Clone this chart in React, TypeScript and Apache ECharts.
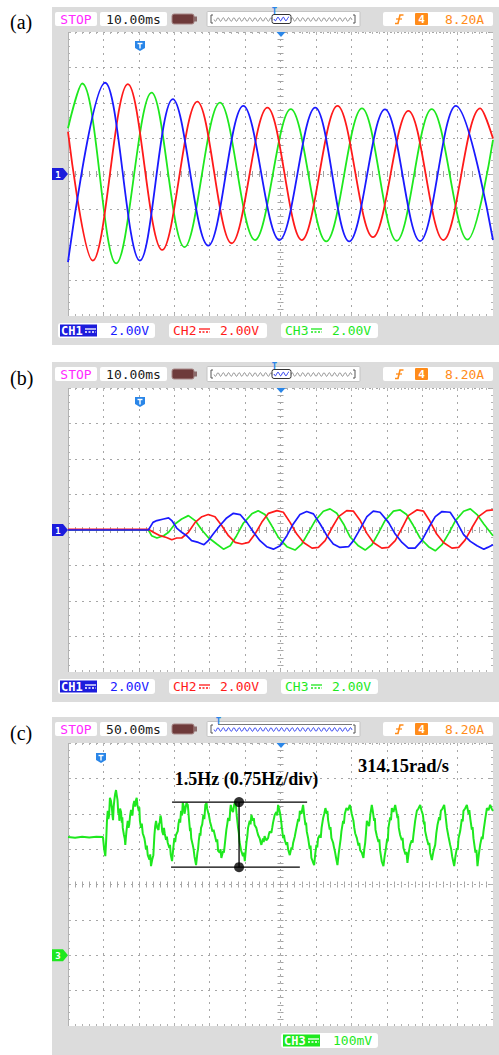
import React, { useEffect, useRef } from "react";
import * as echarts from "echarts";

type P = [number, number];

// ---------- (a) time [ms], voltage [V]  (2 V/div, 10 ms/div) ----------
const aGreen: P[] = [[0, 2.58], [4, 5.1], [13.6, -5.04], [23.6, 4.58], [32.9, -4.12], [42.9, 4.02], [52.8, -3.72], [62.9, 3.66], [72.9, -3.8], [83, 3.7], [92.8, -3.76], [102.7, 3.66], [112.8, -3.7], [120, 1.92]];
const aRed: P[] = [[0, 2.38], [7, -4.88], [16.9, 5.06], [26.6, -4.28], [36.5, 4.08], [46.2, -3.9], [56.3, 3.74], [66, -3.72], [76.1, 3.84], [86.1, -3.56], [96.1, 3.56], [106, -3.72], [116.4, 3.7], [120, 2.0]];
const aBlue: P[] = [[0, -4.96], [10.5, 5.14], [20.3, -4.88], [29.6, 4.22], [39.6, -4.04], [49.5, 3.84], [59.7, -3.72], [69.8, 3.74], [79.4, -3.8], [89.5, 3.64], [99.4, -3.78], [109.5, 3.84], [120, -3.72]];

// ---------- (b) time [ms], voltage [V] ----------
const bBlue: P[] = [[0, 0], [22.7, 0], [24.0, 0.43], [25.1, 0.53], [27.0, 0.62], [28.4, 0.68], [29.3, 0.53], [30.7, 0.11], [32.1, -0.13], [33.5, -0.32], [34.9, -0.6], [36.8, -0.7], [38.4, -0.83], [39.6, -0.6], [41.0, -0.23], [42.9, 0.25], [44.8, 0.68], [46.7, 0.94], [48.6, 0.87], [50.5, 0.43], [52.4, -0.13], [54.2, -0.6], [56.1, -0.94], [58.0, -1.08], [59.9, -0.89], [61.8, -0.32], [63.6, 0.34], [65.5, 0.87], [67.4, 1.04], [69.3, 0.91], [71.2, 0.34], [73.1, -0.32], [74.9, -0.79], [76.8, -0.98], [79.2, -0.94], [80.6, -0.6], [82.5, 0.06], [84.4, 0.75], [86.2, 1.06], [88.1, 1.0], [90.5, 0.43], [92.4, -0.23], [94.3, -0.7], [96.1, -1.02], [98.0, -1.02], [99.9, -0.6], [101.8, 0.11], [103.7, 0.75], [105.6, 1.04], [107.9, 1.0], [109.8, 0.43], [111.7, -0.26], [113.6, -0.64], [115.5, -0.89], [117.4, -1.08], [118.5, -0.98], [120, -0.83]];
const bRed: P[] = [[0, 0.04], [22.7, 0.04], [24.1, -0.13], [26.0, -0.32], [27.8, -0.42], [29.3, -0.55], [30.7, -0.45], [32.1, -0.45], [34.0, -0.13], [35.9, 0.43], [37.8, 0.75], [39.6, 0.87], [41.5, 0.75], [43.4, 0.25], [45.3, -0.32], [47.2, -0.7], [49.1, -0.79], [51.0, -0.7], [52.8, -0.23], [54.7, 0.43], [56.6, 0.94], [59.0, 1.09], [60.8, 1.0], [62.7, 0.43], [64.6, -0.23], [66.5, -0.7], [68.9, -1.02], [70.7, -0.98], [72.6, -0.6], [74.5, 0.11], [76.4, 0.75], [78.7, 1.09], [80.6, 1.06], [82.5, 0.53], [84.4, -0.19], [86.2, -0.7], [88.6, -1.02], [90.5, -0.98], [92.4, -0.6], [94.3, 0.11], [96.1, 0.81], [98.5, 1.13], [100.4, 1.06], [102.2, 0.49], [104.1, -0.23], [106.0, -0.7], [108.4, -1.02], [110.3, -0.98], [112.1, -0.57], [114.0, 0.11], [115.9, 0.75], [118.2, 1.09], [120, 1.13]];
const bGreen: P[] = [[0, 0], [22.7, 0], [23.6, -0.32], [25.1, -0.45], [27.0, -0.32], [28.4, -0.13], [30.2, 0.34], [32.1, 0.62], [34.0, 0.81], [35.9, 0.53], [37.8, 0], [39.6, -0.42], [42.0, -0.79], [43.9, -1.08], [45.8, -0.89], [47.6, -0.32], [49.5, 0.38], [51.9, 0.91], [53.7, 1.09], [55.6, 0.87], [57.5, 0.25], [59.4, -0.42], [61.8, -0.94], [64.1, -1.13], [66.0, -0.79], [67.9, -0.13], [69.8, 0.53], [72.1, 1.06], [74.0, 1.19], [75.9, 0.94], [77.8, 0.34], [79.6, -0.38], [82.0, -0.89], [83.9, -1.13], [85.8, -0.83], [87.6, -0.19], [89.5, 0.53], [91.9, 1.06], [93.8, 1.13], [95.6, 0.87], [97.5, 0.25], [99.4, -0.45], [101.8, -0.94], [103.7, -1.17], [105.6, -0.83], [107.5, -0.19], [109.4, 0.53], [111.7, 1.06], [113.6, 1.19], [115.5, 0.87], [117.4, 0.34], [120, -0.32]];

// ---------- (c) time [ms], CH3 [mV] (100 mV/div, 50 ms/div) ----------
const cSpeed: P[] = [[0, 334], [10, 332], [20, 335], [30, 333], [40, 335], [49.4, 334], [51, 300], [52.7, 280], [53.5, 310], [54, 330], [55, 380], [56.1, 408], [57, 385], [58, 395], [59.2, 445], [60.7, 436], [62, 415], [62.8, 395], [63.6, 382], [64.5, 420], [65.5, 440], [66.5, 455], [67.8, 467], [69, 450], [69.9, 439], [71, 400], [71.8, 410], [72.5, 380], [73.5, 415], [74.9, 405], [76, 375], [76.7, 390], [77.3, 360], [79, 340], [80.1, 330], [80.9, 312], [81.6, 330], [82.5, 350], [84.3, 380], [85.4, 360], [86.5, 370], [87.7, 395], [89, 411], [90, 400], [91, 395], [92.2, 425], [93.6, 436], [94.8, 420], [96, 439], [97, 445], [98, 425], [99.9, 408], [100.7, 418], [101.5, 380], [103.1, 360], [104.2, 372], [105.5, 345], [107.8, 331], [108.9, 318], [110, 300], [111.3, 310], [112.6, 283], [115, 270], [116.1, 285], [117.2, 252], [118.8, 270], [120.5, 283], [121.2, 310], [122, 340], [123.1, 365], [124.3, 380], [126, 360], [127.8, 354], [128.6, 372], [129.5, 375], [130.5, 395], [131.4, 388], [133, 350], [134.6, 340], [135.5, 360], [136.5, 345], [138.4, 326], [139.6, 335], [140.8, 318], [143.1, 303], [144, 312], [145, 285], [146.9, 266], [148.5, 300], [150.1, 331], [151.3, 320], [152.5, 340], [155, 351], [156, 372], [157.3, 385], [158.4, 375], [159.6, 408], [161, 395], [162, 431], [163.6, 420], [164.5, 400], [165.3, 408], [167.2, 430], [169.1, 425], [170, 405], [170.8, 385], [172.3, 351], [173.1, 360], [174, 330], [176.1, 312], [177.3, 300], [178.5, 280], [180.8, 255], [182.7, 290], [183.6, 300], [184.6, 323], [186, 345], [187, 338], [187.8, 360], [189.5, 370], [191.1, 397], [192.5, 385], [193.9, 425], [195.6, 430], [196.4, 415], [197.3, 408], [199, 395], [200.6, 377], [202.2, 365], [203.9, 350], [205.5, 355], [207.2, 340], [209.5, 320], [210.7, 328], [211.9, 295], [214.2, 290], [215.3, 300], [216.5, 275], [219, 295], [220.1, 290], [221.3, 312], [223.6, 355], [224.8, 370], [226, 388], [228, 380], [229, 410], [229.8, 425], [231.4, 410], [233, 405], [234.6, 425], [236.3, 436], [237.2, 420], [238.2, 395], [240.1, 360], [241.2, 345], [242.2, 320], [244.3, 297], [247, 280], [248.3, 290], [249.6, 266], [252, 320], [253.1, 335], [254.2, 360], [256.5, 380], [257.7, 370], [258.9, 397], [261.2, 380], [262.3, 388], [263.4, 368], [265.9, 360], [267.1, 350], [268.4, 340], [270.7, 330], [271.8, 320], [273, 312], [275.2, 330], [276.3, 320], [277.5, 337], [280, 325], [282.5, 331], [283.6, 342], [284.8, 350], [287.1, 346], [288.3, 360], [289.5, 375], [291.9, 397], [294.2, 405], [295.4, 395], [296.6, 425], [298.5, 410], [299.5, 400], [300.4, 388], [302, 360], [303.7, 331], [304.9, 340], [306, 325], [308.3, 312], [309.5, 320], [310.7, 300], [313.1, 283], [315.5, 305], [316.6, 300], [317.8, 317], [320.1, 335], [321.3, 348], [322.5, 360], [325, 385], [326.1, 378], [327.3, 408], [329.6, 400], [331.9, 425], [333.5, 395], [335.2, 368], [336.1, 375], [337.1, 350], [339, 331], [341.3, 300], [342.4, 310], [343.6, 275], [345.5, 265], [347.5, 255], [349, 285], [350.7, 312], [351.9, 305], [353, 330], [355.5, 340], [356.8, 332], [358, 360], [360.2, 388], [361.8, 400], [363.4, 416], [365.3, 400], [366.2, 408], [367.2, 382], [369.5, 355], [370.6, 362], [371.9, 331], [374.3, 318], [375.5, 305], [376.7, 295], [378.5, 275], [380.4, 255], [382, 285], [383.8, 312], [385, 330], [386, 350], [388.4, 380], [389.5, 372], [390.8, 400], [393.1, 416], [395.5, 410], [397.9, 425], [399.2, 415], [400.5, 400], [403, 380], [404.2, 360], [405.4, 345], [407.8, 331], [410, 310], [411.2, 318], [412.4, 297], [414.8, 290], [416, 282], [417.1, 275], [418.3, 300], [419.5, 317], [420.7, 345], [421.9, 380], [423.5, 372], [425.1, 365], [427, 400], [428.9, 425], [430.5, 405], [432.2, 380], [433.2, 388], [434.1, 355], [436, 337], [438.3, 320], [439.5, 328], [440.7, 295], [443, 265], [445.3, 252], [447, 280], [448.9, 303], [450.6, 330], [451.5, 322], [452.4, 360], [454.8, 390], [456, 382], [457.2, 416], [459.5, 405], [461.9, 425], [463.5, 408], [465.1, 388], [466, 395], [467, 360], [468.9, 340], [471.2, 325], [472.4, 332], [473.6, 303], [476.4, 285], [477.8, 292], [479.2, 261], [481, 290], [483, 312], [485.3, 325], [486.5, 318], [487.7, 340], [490.1, 380], [492.5, 408], [494.8, 415], [497.2, 425], [499, 410], [501, 397], [502.6, 370], [503.4, 378], [504.2, 351], [506.5, 330], [508.9, 312], [510.1, 318], [511.3, 290], [513.7, 269], [516, 295], [518.4, 312], [520, 345], [521.6, 368], [524, 390], [525.2, 382], [526.4, 408], [528.8, 415], [531.1, 425], [533, 395], [534.9, 360], [536, 348], [537.2, 335], [539.5, 312], [540.9, 300], [542.3, 280], [545.2, 252], [547, 280], [549, 303], [550.2, 298], [551.3, 330], [553.7, 351], [556, 385], [557.2, 378], [558.3, 408], [560.7, 415], [563.1, 425], [565.5, 400], [566.6, 410], [567.8, 388], [570.1, 355], [571.2, 362], [572.4, 331], [575.2, 290], [576.6, 298], [578.1, 252], [580, 285], [581.9, 312], [584.2, 335], [585.4, 328], [586.6, 351], [589, 385], [591.4, 416], [593.7, 410], [596, 425], [598, 415], [600, 408]];

// annotation in (c): band of the speed ripple
const cBandTop: P[] = [[146.9, 433], [337.6, 433]];
const cBandBottom: P[] = [[145.5, 249], [327.3, 249]];
const cBandSpan: P[] = [[241.5, 249], [241.5, 433]];
const cAnnoText = "1.5Hz (0.75Hz/div)";
const cSpeedText = "314.15rad/s";

// header / footer texts
const timeBase = ["10.00ms", "10.00ms", "50.00ms"];
const chScaleAB = ["2.00V", "2.00V", "2.00V"];
const chScaleC = "100mV";
const triggerText = "8.20A";
const panelLabels = ["(a)", "(b)", "(c)"];

// axis ranges per panel: [xMax, xInterval, yMin, yMax, yInterval]
const ranges = [
  [120, 10, -8, 8, 2],
  [120, 10, -8, 8, 2],
  [600, 50, -200, 600, 100],
];

// ---------- styling / layout ----------
const BLUE = "#1a1aff";
const RED = "#ff1a1a";
const GREEN = "#1ee81e";
const ORANGE = "#ff8c1a";
const MAGENTA = "#ff2bff";
const TBLUE = "#2a86e8";
const FRAME = "#dcdcdc";
const MONO = '"DejaVu Sans Mono", monospace';
const PL = 68;
const PW = 425;
const panels = [
  { frameTop: 7, frameBottom: 345, plotTop: 32, plotH: 284, labelY: 22 },
  { frameTop: 362, frameBottom: 702, plotTop: 388, plotH: 284, labelY: 378 },
  { frameTop: 717, frameBottom: 1055, plotTop: 743, plotH: 283, labelY: 733 },
];
const BORDER = "#b2b2b2";

// grid 0..2: dotted split grid + traces ; grid 3..5: ticks only
function splitAxes(i: number) {
  const [xMax, xInt, yMin, yMax, yInt] = ranges[i];
  const line = { show: true, onZero: false, lineStyle: { color: BORDER, width: 1 } };
  const split = { show: true, lineStyle: { color: "#a6a6a6", width: 1, type: [2, 5] } };
  return {
    x: { gridIndex: i, type: "value", min: 0, max: xMax, interval: xInt, axisLabel: { show: false }, axisLine: line, axisTick: { show: false }, splitLine: split },
    y: { gridIndex: i, type: "value", min: yMin, max: yMax, interval: yInt, axisLabel: { show: false }, axisLine: line, axisTick: { show: false }, splitLine: split },
  };
}

function tickAxes(i: number) {
  const [xMax, xInt, yMin, yMax, yInt] = ranges[i];
  const g = i + 3;
  const h = panels[i].plotH;
  const hide: any = { axisLabel: { show: false }, axisLine: { show: false, onZero: false }, axisTick: { show: false }, splitLine: { show: false } };
  const inTick = { show: true, inside: true, length: 3, lineStyle: { color: BORDER } };
  const inMinor = { show: true, splitNumber: 5, length: 2, lineStyle: { color: BORDER } };
  const cTick = { show: true, inside: false, length: 3, lineStyle: { color: "#a4a4a4" } };
  const cMinor = { show: true, splitNumber: 5, length: 3, lineStyle: { color: "#a4a4a4" } };
  const xb = { gridIndex: g, type: "value", min: 0, max: xMax, interval: xInt, ...hide };
  const yb = { gridIndex: g, type: "value", min: yMin, max: yMax, interval: yInt, ...hide };
  return {
    xs: [
      { ...xb, position: "top", axisTick: inTick, minorTick: inMinor },
      { ...xb, position: "bottom", axisTick: inTick, minorTick: inMinor },
      { ...xb, position: "bottom", offset: -h / 2, axisTick: cTick, minorTick: cMinor },
      { ...xb, position: "top", offset: -h / 2, axisTick: cTick, minorTick: cMinor },
    ],
    ys: [
      { ...yb, position: "left", axisTick: inTick, minorTick: inMinor },
      { ...yb, position: "right", axisTick: inTick, minorTick: inMinor },
      { ...yb, position: "left", offset: -PW / 2, axisTick: cTick, minorTick: cMinor },
      { ...yb, position: "right", offset: -PW / 2, axisTick: cTick, minorTick: cMinor },
    ],
  };
}

function squiggle(x0: number, x1: number, yc: number, amp: number, period: number) {
  const pts: number[][] = [];
  for (let x = x0; x <= x1; x += 0.5) pts.push([x, yc + amp * Math.sin(((x - x0) / period) * 2 * Math.PI)]);
  return pts;
}

function txt(x: number, y: number, text: string, fill: string, size = 13, align = "left", extra: any = {}) {
  return {
    type: "text", x, y, z: 20, silent: true,
    style: { text, fill, fontSize: size, fontFamily: MONO, align, verticalAlign: "middle", ...extra },
  };
}

function frame(i: number) {
  const p = panels[i];
  const r = (x: number, y: number, w: number, h: number) => ({ type: "rect", z: 1, silent: true, shape: { x, y, width: w, height: h }, style: { fill: FRAME } });
  const bottom = p.plotTop + p.plotH;
  return [
    r(52, p.frameTop, 447, p.plotTop - p.frameTop),
    r(52, bottom, 447, p.frameBottom - bottom),
    r(52, p.plotTop, PL - 52, p.plotH),
    r(PL + PW, p.plotTop, 499 - PL - PW, p.plotH),
  ];
}

function header(i: number) {
  const p = panels[i];
  const y = p.frameTop + 5;
  const isC = i === 2;
  const els: any[] = [];
  const box = (x: number, w: number) => ({ type: "rect", z: 5, silent: true, shape: { x, y, width: w, height: 14, r: 2 }, style: { fill: "#fff" } });
  els.push(box(55, 42), txt(76, y + 7.5, "STOP", MAGENTA, 13, "center"));
  els.push(box(100, 67), txt(133.5, y + 7.5, timeBase[i], "#1a1a1a", 13, "center"));
  els.push({ type: "rect", z: 6, silent: true, shape: { x: 172, y: y + 2, width: 22, height: 10, r: 2 }, style: { fill: "#6e3a3a", stroke: "#a88888", lineWidth: 1 } });
  els.push({ type: "rect", z: 6, silent: true, shape: { x: 194, y: y + 4.5, width: 3, height: 5 }, style: { fill: "#8a6a6a" } });
  els.push({ type: "rect", z: 5, silent: true, shape: { x: 207, y: y - 0.5, width: 153, height: 15, r: 1 }, style: { fill: "#fff", stroke: "#c4c4c4", lineWidth: 1 } });
  els.push({ type: "polyline", z: 6, silent: true, shape: { points: [[213, y + 3], [211, y + 3], [211, y + 11], [213, y + 11]] }, style: { stroke: "#555", lineWidth: 1 } });
  els.push({ type: "polyline", z: 6, silent: true, shape: { points: [[353, y + 3], [355, y + 3], [355, y + 11], [353, y + 11]] }, style: { stroke: "#555", lineWidth: 1 } });
  if (!isC) {
    els.push({ type: "polyline", z: 6, silent: true, shape: { points: squiggle(214, 352, y + 7.5, 1.8, 5.3) }, style: { stroke: "#7a7a7a", lineWidth: 0.8 } });
    els.push({ type: "rect", z: 7, silent: true, shape: { x: 272, y: y + 2.5, width: 19, height: 9, r: 2 }, style: { fill: "#fff", stroke: "#333", lineWidth: 1 } });
    els.push({ type: "polyline", z: 8, silent: true, shape: { points: squiggle(274, 289, y + 7, 1.8, 5.3) }, style: { stroke: "#2233ee", lineWidth: 1 } });
    els.push(txt(274.5, y - 1.5, "T", TBLUE, 9, "center", { fontWeight: "bold" }));
  } else {
    els.push({ type: "polyline", z: 6, silent: true, shape: { points: squiggle(214, 352, y + 7.5, 1.8, 5.3) }, style: { stroke: "#2233ee", lineWidth: 0.9 } });
    els.push({ type: "line", z: 6, silent: true, shape: { x1: 218, y1: y + 2.5, x2: 352, y2: y + 2.5 }, style: { stroke: "#555", lineWidth: 0.8 } });
    els.push(txt(218.5, y - 1.5, "T", TBLUE, 9, "center", { fontWeight: "bold" }));
  }
  els.push(box(383, 110));
  els.push({ type: "polyline", z: 8, silent: true, shape: { points: [[395, y + 11.5], [398, y + 11.5], [400, y + 3], [403.5, y + 3]] }, style: { stroke: ORANGE, lineWidth: 1.6 } });
  els.push({ type: "line", z: 8, silent: true, shape: { x1: 396, y1: y + 7, x2: 402, y2: y + 7 }, style: { stroke: ORANGE, lineWidth: 1.3 } });
  els.push({ type: "rect", z: 8, silent: true, shape: { x: 415, y: y + 1, width: 13, height: 12, r: 1 }, style: { fill: ORANGE } });
  els.push(txt(421.5, y + 7.5, "4", "#fff", 11, "center", { fontWeight: "bold" }));
  els.push(txt(445, y + 7.5, triggerText, ORANGE, 13, "left"));
  return els;
}

function dcSymbol(x: number, y: number, color: string) {
  return [
    { type: "line", z: 21, silent: true, shape: { x1: x, y1: y, x2: x + 11, y2: y }, style: { stroke: color, lineWidth: 1.3 } },
    { type: "line", z: 21, silent: true, shape: { x1: x, y1: y + 3, x2: x + 11, y2: y + 3 }, style: { stroke: color, lineWidth: 1.3, lineDash: [2, 1.5] } },
  ];
}

function footer(i: number) {
  const p = panels[i];
  const ry = p.plotTop + p.plotH + 7;
  const els: any[] = [];
  const box = (x: number, w: number) => ({ type: "rect", z: 5, silent: true, shape: { x, y: ry, width: w, height: 15, r: 3 }, style: { fill: "#fff" } });
  if (i < 2) {
    els.push(box(58, 97));
    els.push({ type: "rect", z: 6, silent: true, shape: { x: 60, y: ry + 1.5, width: 37, height: 12 }, style: { fill: "#1c1cdc" } });
    els.push(txt(61, ry + 7.8, "CH1", "#fff", 12, "left", { fontWeight: "bold" }));
    els.push(...dcSymbol(85, ry + 6, "#fff"));
    els.push(txt(110, ry + 7.8, chScaleAB[0], BLUE));
    els.push(box(169, 98));
    els.push(txt(173, ry + 7.8, "CH2", RED));
    els.push(...dcSymbol(199, ry + 6, RED));
    els.push(txt(220, ry + 7.8, chScaleAB[1], RED));
    els.push(box(281, 97));
    els.push(txt(285, ry + 7.8, "CH3", GREEN));
    els.push(...dcSymbol(311, ry + 6, GREEN));
    els.push(txt(332, ry + 7.8, chScaleAB[2], GREEN));
  } else {
    els.push(box(281, 97));
    els.push({ type: "rect", z: 6, silent: true, shape: { x: 283, y: ry + 1.5, width: 37, height: 12 }, style: { fill: GREEN } });
    els.push(txt(284, ry + 7.8, "CH3", "#fff", 12, "left", { fontWeight: "bold" }));
    els.push(...dcSymbol(308, ry + 6, "#fff"));
    els.push(txt(333, ry + 7.8, chScaleC, GREEN));
  }
  return els;
}

function markers(i: number) {
  const p = panels[i];
  const els: any[] = [];
  els.push({ type: "polygon", z: 15, silent: true, shape: { points: [[276.5, p.plotTop], [285.5, p.plotTop], [281, p.plotTop + 5]] }, style: { fill: TBLUE } });
  const tx = i === 2 ? 101 : 140;
  const ty = p.plotTop + (i === 2 ? 10 : 9);
  els.push({ type: "polygon", z: 15, silent: true, shape: { points: [[tx - 5, ty], [tx + 5, ty], [tx + 5, ty + 7], [tx, ty + 10], [tx - 5, ty + 7]] }, style: { fill: TBLUE } });
  els.push({ type: "line", z: 16, silent: true, shape: { x1: tx - 2.5, y1: ty + 2.5, x2: tx + 2.5, y2: ty + 2.5 }, style: { stroke: "#fff", lineWidth: 1.4 } });
  els.push({ type: "line", z: 16, silent: true, shape: { x1: tx, y1: ty + 2.5, x2: tx, y2: ty + 7.5 }, style: { stroke: "#fff", lineWidth: 1.4 } });
  const cy = i === 2 ? p.plotTop + p.plotH * 0.75 : p.plotTop + p.plotH / 2;
  const col = i === 2 ? GREEN : "#1c1cdc";
  els.push({ type: "polygon", z: 15, silent: true, shape: { points: [[52, cy - 6], [63, cy - 6], [68, cy], [63, cy + 6], [52, cy + 6]] }, style: { fill: col } });
  els.push(txt(58, cy + 0.5, i === 2 ? "3" : "1", "#fff", 9, "center", { fontWeight: "bold" }));
  return els;
}

function buildOption() {
  const gridRect = (p: any) => ({ left: PL, top: p.plotTop, width: PW, height: p.plotH, show: false });
  const grids = [...panels.map(gridRect), ...panels.map(gridRect)];
  const sp = [0, 1, 2].map(splitAxes);
  const tk = [0, 1, 2].map(tickAxes);
  const xAxis = [...sp.map((s) => s.x), ...tk.flatMap((t) => t.xs)];
  const yAxis = [...sp.map((s) => s.y), ...tk.flatMap((t) => t.ys)];
  const wave = (data: P[], color: string, ax: number, smooth: number | boolean, w = 1.8) => ({
    type: "line", xAxisIndex: ax, yAxisIndex: ax, data, smooth, symbol: "none", showSymbol: false, silent: true,
    lineStyle: { color, width: w }, itemStyle: { color }, z: 3,
  });
  const black = (data: P[]) => ({
    type: "line", xAxisIndex: 2, yAxisIndex: 2, data, symbol: "none", silent: true,
    lineStyle: { color: "#000", width: 1.3 }, z: 6,
  });
  const graphics: any[] = [];
  panels.forEach((p, i) => {
    graphics.push(...frame(i));
    graphics.push({ type: "text", x: 10, y: p.labelY, z: 20, silent: true, style: { text: panelLabels[i], fill: "#000", fontSize: 20, fontFamily: '"Liberation Serif", serif', verticalAlign: "middle" } });
    graphics.push(...header(i), ...footer(i), ...markers(i));
  });
  graphics.push({ type: "text", x: 246.5, y: 779, z: 20, silent: true, style: { text: cAnnoText, fill: "#000", fontSize: 18, fontWeight: "bold", fontFamily: '"Liberation Serif", serif', align: "center", verticalAlign: "middle" } });
  graphics.push({ type: "text", x: 403.5, y: 766, z: 20, silent: true, style: { text: cSpeedText, fill: "#000", fontSize: 18.5, fontWeight: "bold", fontFamily: '"Liberation Serif", serif', align: "center", verticalAlign: "middle" } });

  return {
    animation: false,
    grid: grids,
    xAxis,
    yAxis,
    series: [
      wave(aGreen, GREEN, 0, 0.36),
      wave(aRed, RED, 0, 0.36),
      wave(aBlue, BLUE, 0, 0.36),
      wave(bGreen, GREEN, 1, false, 1.7),
      wave(bRed, RED, 1, false, 1.7),
      wave(bBlue, BLUE, 1, false, 1.7),
      wave(cSpeed, GREEN, 2, false, 2.0),
      black(cBandTop),
      black(cBandBottom),
      black(cBandSpan),
      {
        type: "scatter", xAxisIndex: 2, yAxisIndex: 2, silent: true, z: 7,
        data: [cBandSpan[0], cBandSpan[1]], symbol: "circle", symbolSize: 10, itemStyle: { color: "#000" },
      },
    ],
    graphic: { elements: graphics },
  };
}

export default function App() {
  const ref = useRef<HTMLDivElement>(null);
  useEffect(() => {
    document.body.style.margin = "0";
    if (!ref.current) return;
    const chart = echarts.init(ref.current, undefined, { renderer: "svg" });
    chart.setOption(buildOption() as any);
    return () => chart.dispose();
  }, []);
  return <div ref={ref} style={{ width: 499, height: 1055, background: "#fff" }} />;
}
